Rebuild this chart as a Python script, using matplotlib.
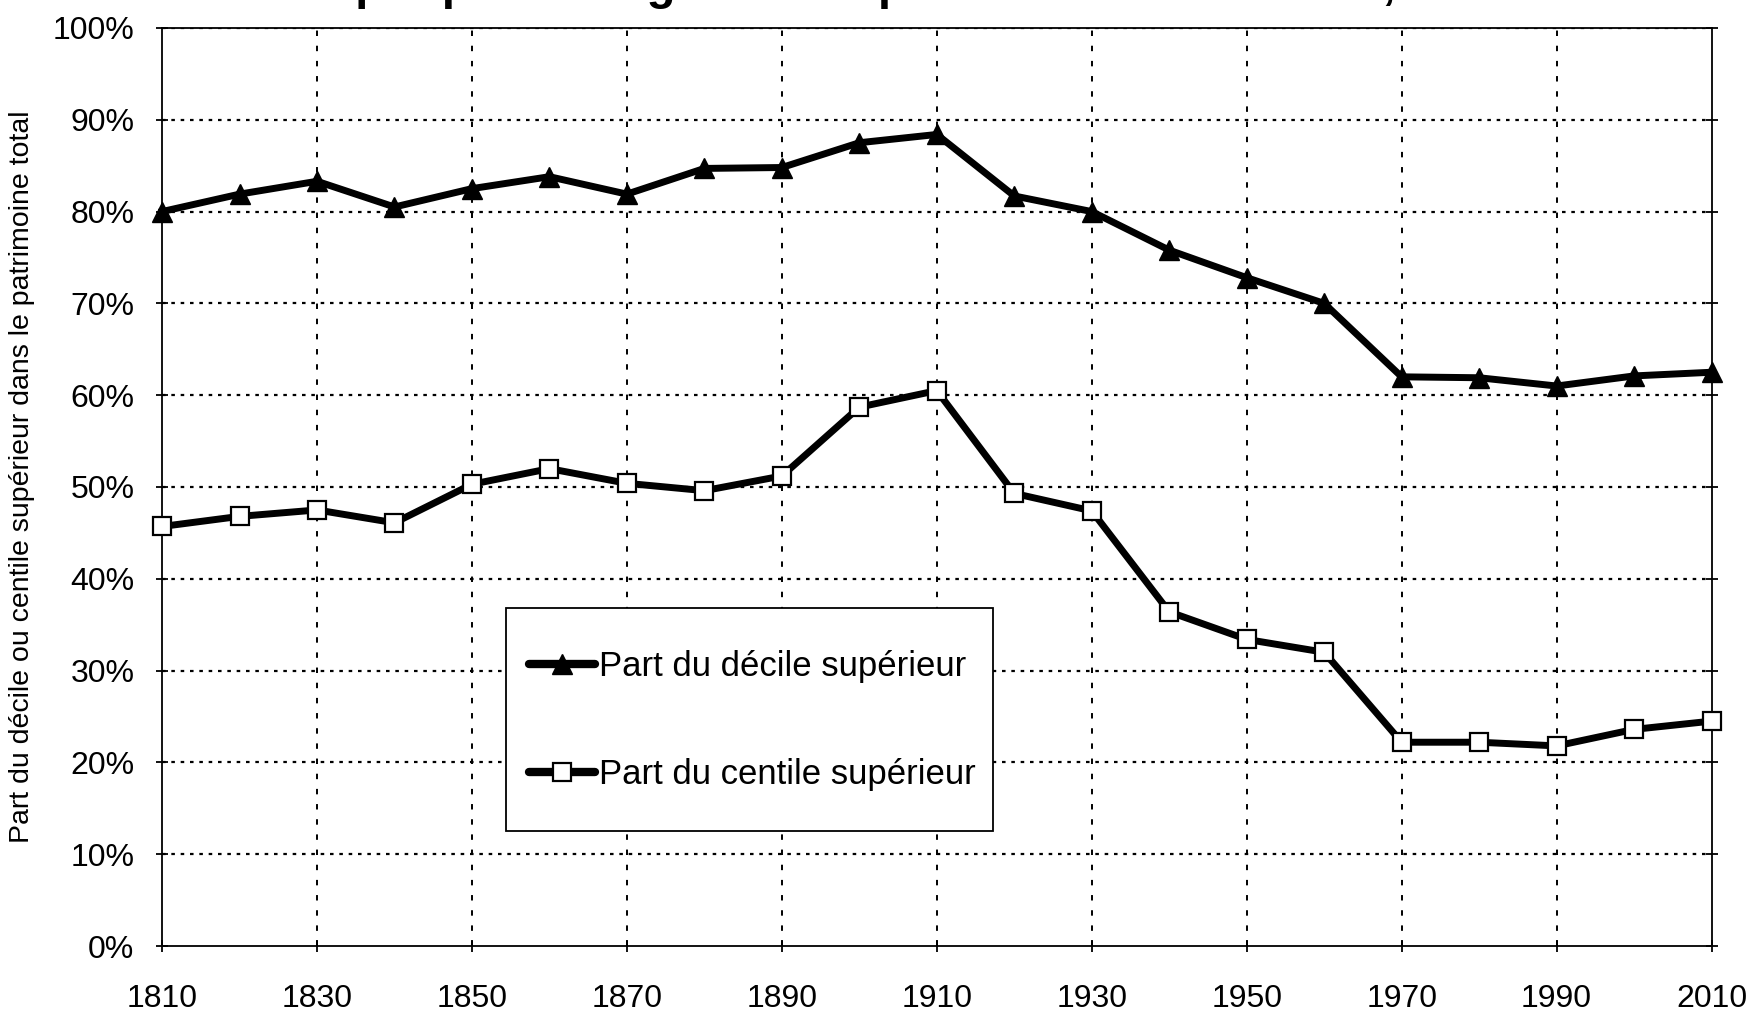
import matplotlib
matplotlib.use("Agg")
import matplotlib.pyplot as plt
from matplotlib.lines import Line2D
from matplotlib.patches import Rectangle

plt.rcParams['font.family'] = ['Liberation Sans', 'DejaVu Sans']

years = [1810, 1820, 1830, 1840, 1850, 1860, 1870, 1880, 1890, 1900, 1910,
         1920, 1930, 1940, 1950, 1960, 1970, 1980, 1990, 2000, 2010]
top_decile = [80.0, 81.9, 83.3, 80.5, 82.5, 83.8, 81.9, 84.7, 84.8, 87.5, 88.4,
              81.7, 80.0, 75.8, 72.8, 70.0, 62.0, 61.9, 61.0, 62.1, 62.5]
top_centile = [45.7, 46.8, 47.5, 46.1, 50.3, 52.0, 50.4, 49.6, 51.2, 58.7, 60.5,
               49.3, 47.4, 36.4, 33.4, 32.0, 22.2, 22.2, 21.8, 23.6, 24.5]
x_ticks = [1810, 1830, 1850, 1870, 1890, 1910, 1930, 1950, 1970, 1990, 2010]
y_ticks = [0, 10, 20, 30, 40, 50, 60, 70, 80, 90, 100]
y_tick_labels = ["0%", "10%", "20%", "30%", "40%", "50%", "60%", "70%", "80%", "90%", "100%"]
label_decile = "Part du décile supérieur"
label_centile = "Part du centile supérieur"
y_label = "Part du décile ou centile supérieur dans le patrimoine total"
title = "Graphique 1: Inégalité des patrimoines en France, 1810-2010"

fig = plt.figure(figsize=(17.54, 10.13), dpi=100)
ax = fig.add_axes([0.0924, 0.0661, 0.8834, 0.9063])

ax.plot(years, top_decile, color='black', lw=5, marker='^', ms=15,
        mfc='black', mec='black', clip_on=False, zorder=5, solid_joinstyle='round')
ax.plot(years, top_centile, color='black', lw=5, marker='s', ms=13,
        mfc='white', mec='black', mew=1.6, clip_on=False, zorder=5, solid_joinstyle='round')

ax.set_xlim(1810, 2010)
ax.set_ylim(0, 100)
ax.set_xticks(x_ticks)
ax.set_xticklabels([str(v) for v in x_ticks])
ax.set_yticks(y_ticks)
ax.set_yticklabels(y_tick_labels)

for yv in y_ticks[1:]:
    ax.axhline(yv, color='black', lw=1.6, ls=(0, (1.6, 2.6)), zorder=1)
for xv in x_ticks[1:-1]:
    ax.axvline(xv, color='black', lw=1.4, ls=(0, (2.8, 5.0)), zorder=1)

for s in ax.spines.values():
    s.set_linewidth(1.3)
    s.set_color('black')

ax.tick_params(axis='y', which='both', direction='inout', length=8, width=1.3,
               labelsize=23, pad=16, right=True)
ax.tick_params(axis='x', which='both', direction='inout', length=8, width=1.3,
               labelsize=23, pad=23)

ax.set_ylabel(y_label, fontsize=20.5, color='black')
ax.yaxis.set_label_coords(-0.082, 0.511)

# legend frame drawn separately
ax.add_patch(Rectangle((0.222, 0.125), 0.314, 0.243, transform=ax.transAxes,
                       facecolor='white', edgecolor='black', lw=1.3, zorder=9))

h1 = Line2D([], [], color='black', lw=6, marker='^', ms=15, mfc='black', mec='black',
            solid_capstyle='round')
h2 = Line2D([], [], color='black', lw=6, marker='s', ms=13, mfc='white', mec='black',
            mew=1.6, solid_capstyle='round')
leg = ax.legend([h1, h2], [label_decile, label_centile], loc='upper left',
                bbox_to_anchor=(0.222, 0.3468), frameon=False,
                fontsize=25, handlelength=1.9, handletextpad=0.13,
                labelspacing=2.16, borderpad=0.65,
                borderaxespad=0.0, numpoints=1)
leg.set_zorder(10)

fig.text(274 / 1754, 1.001, title, fontsize=34, fontweight='bold',
         ha='left', va='baseline')

fig.savefig("out.png", dpi=100)
